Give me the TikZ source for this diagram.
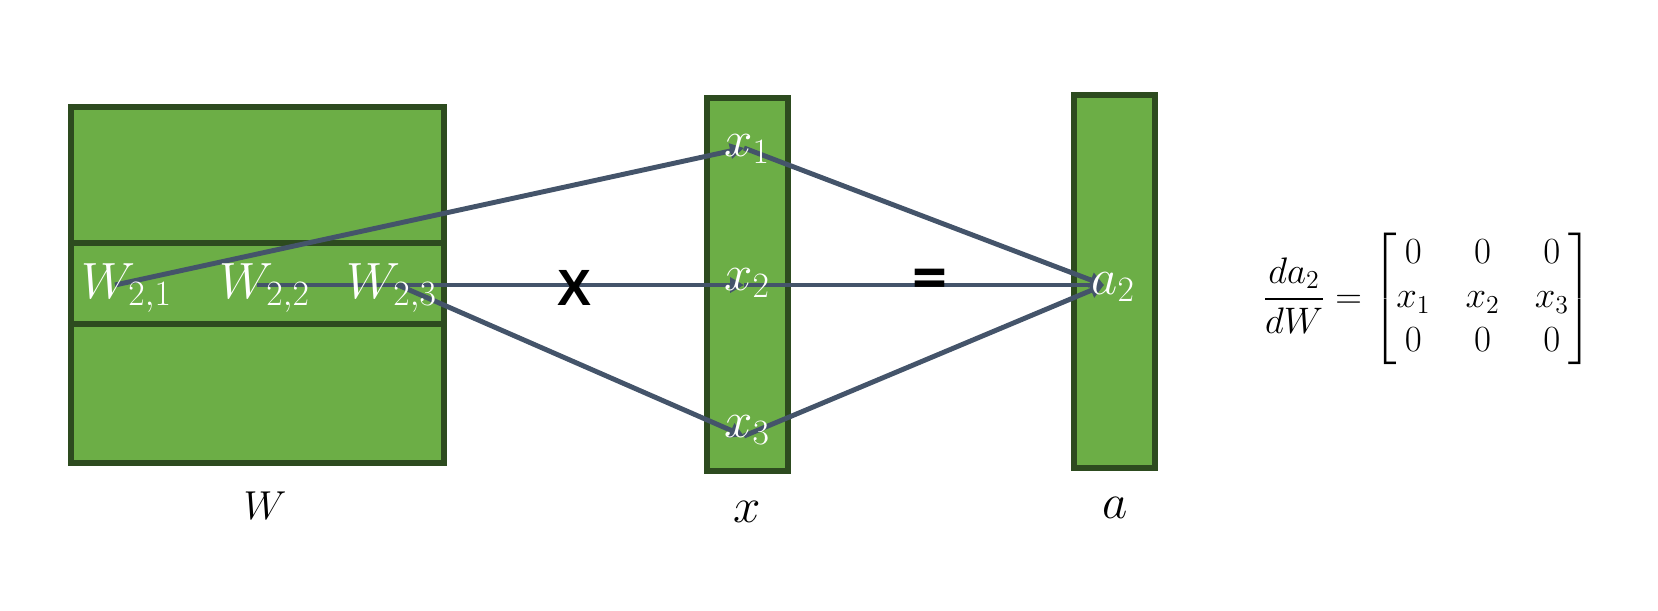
\RequirePackage{fix-cm}
\documentclass[tikz,border=0pt]{standalone}
\usepackage{amsmath}
\usepackage{fontspec}
\newfontfamily\calfont{Carlito}
\newfontfamily\arialfont{Liberation Sans}
\usepackage{tikz}
\usetikzlibrary{arrows.meta}
\definecolor{boxfill}{HTML}{6CAE46}
\definecolor{boxedge}{HTML}{2D4B1F}
\definecolor{wireblue}{HTML}{44546A}
\pgfdeclarelayer{boxes}
\pgfdeclarelayer{wires}
\pgfsetlayers{boxes,wires,main}
\tikzset{
	greenbox/.style={draw=boxedge,fill=boxfill,line width=3.4pt},
	rowline/.style={draw=boxedge,line width=3.4pt},
	wire/.style={draw=wireblue,line width=2.8pt,-{Triangle[length=2.8mm,width=3mm]}},
	inlabel/.style={text=white,inner sep=0pt,anchor=base west,font=\fontsize{29}{32}\selectfont},
	veclabel/.style={inner sep=0pt,font=\fontsize{28}{30}\selectfont}
}

\begin{document}
\begin{tikzpicture}[x=0.02cm,y=-0.02cm]
	\useasboundingbox (0,0) rectangle (1658,610);
	\begin{pgfonlayer}{boxes}
	\draw[greenbox] (71,107) rectangle (444,463);
	\draw[rowline] (71,243) -- (444,243);
	\draw[rowline] (71,324) -- (444,324);
	\draw[greenbox] (707,98) rectangle (788,471);
	\draw[greenbox] (1074,95) rectangle (1155,468);
	\end{pgfonlayer}
	% ports of the entries
	\coordinate (w21p) at (115,285);
	\coordinate (w22p) at (257,285);
	\coordinate (w23p) at (398,285);
	\coordinate (x1p) at (744,148);
	\coordinate (x2p) at (744,285);
	\coordinate (x3p) at (744,436);
	\coordinate (a2p) at (1104,285);
	\begin{pgfonlayer}{wires}
	\draw[wire] (w21p) -- (x1p);
	\draw[wire] (w22p) -- (x2p);
	\draw[wire] (w23p) -- (x3p);
	\foreach \i in {1,2,3}
		\draw[wire] (x\i p) -- (a2p);
	\end{pgfonlayer}
	\node[inlabel] (w21) at (81,298) {$W_{2,1}$};
	\node[inlabel] (w22) at (219,298) {$W_{2,2}$};
	\node[inlabel] (w23) at (346,298) {$W_{2,3}$};
	\node[inlabel] (x1) at (724,156) {$x_1$};
	\node[inlabel] (x2) at (724,290) {$x_2$};
	\node[inlabel] (x3) at (724,437) {$x_3$};
	\node[inlabel] (a2) at (1091,294) {$a_2$};
	\node[inner sep=0pt,font=\arialfont\bfseries\fontsize{29}{32}\selectfont] (times) at (574,288) {X};
	\node[inner sep=0pt,font=\calfont\bfseries\fontsize{40}{40}\selectfont] (equals) at (930,285) {=};
	\node[veclabel,font=\fontsize{23}{26}\selectfont] (wname) at (265,506) {$W$};
	\node[veclabel] (xname) at (747,512) {$x$};
	\node[veclabel] (aname) at (1115,508) {$a$};
	\node[inner sep=0pt,font=\fontsize{21}{25}\selectfont] (grad) at (1428,299)
		{$\displaystyle\frac{da_2}{dW}=\setlength{\arraycolsep}{10pt}\begin{bmatrix}0&0&0\\x_1&x_2&x_3\\0&0&0\end{bmatrix}$};
\end{tikzpicture}
\end{document}
